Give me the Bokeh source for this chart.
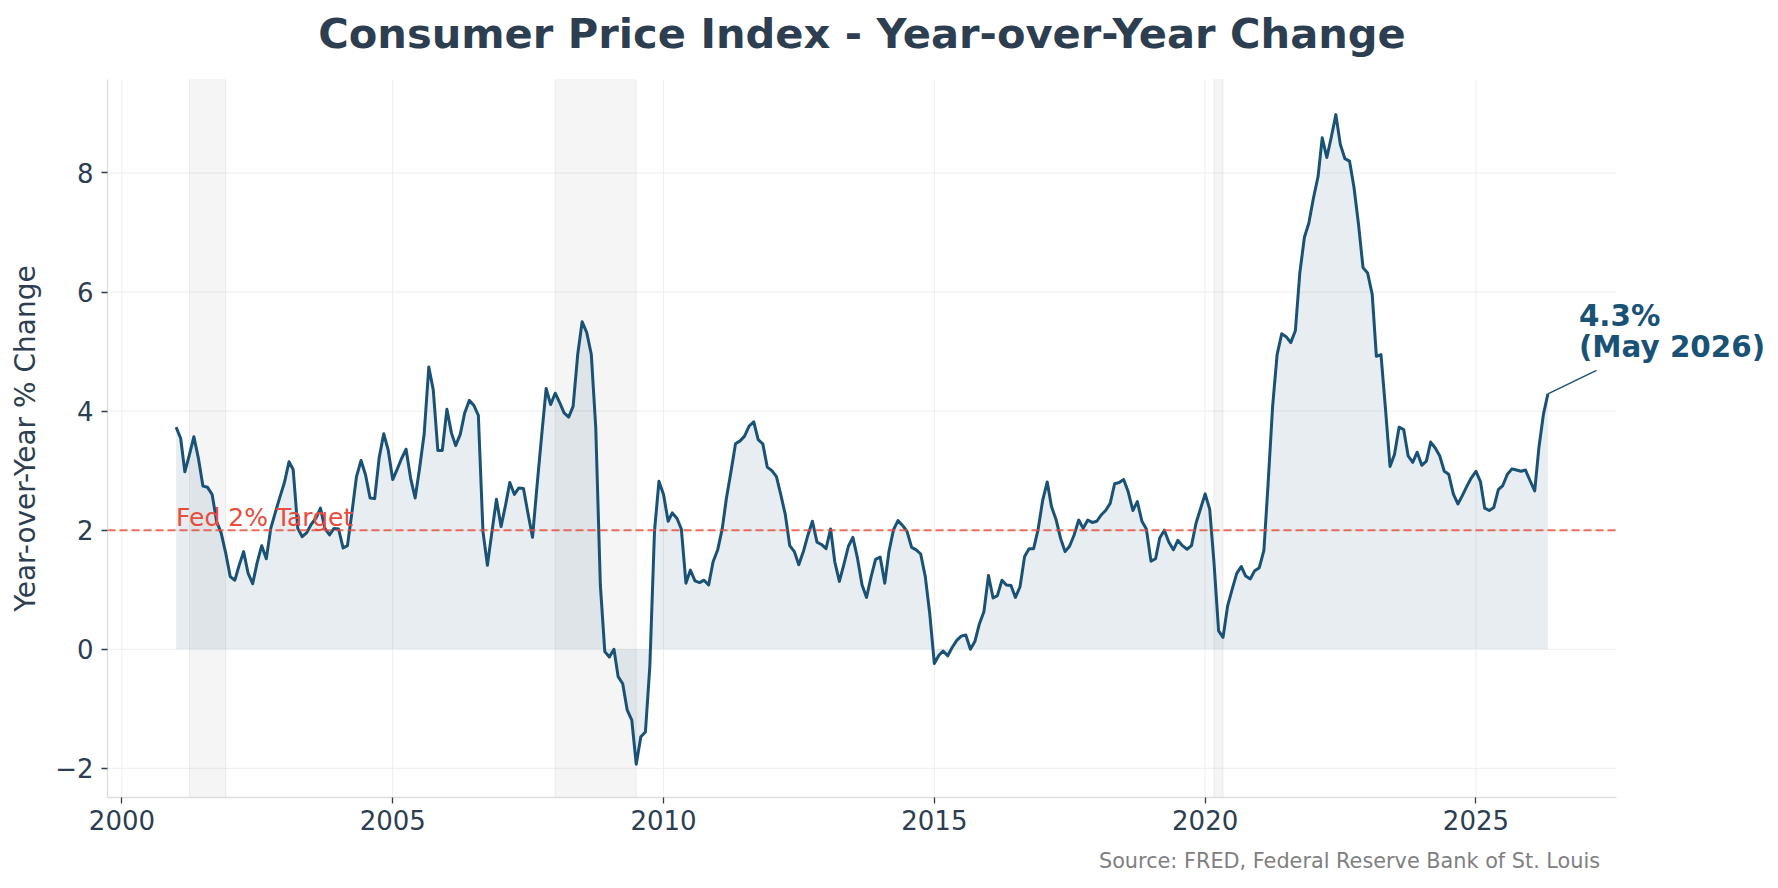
import pandas as pd
from bokeh.plotting import figure
from bokeh.models import Range1d, FixedTicker, BoxAnnotation, Label
from bokeh.embed import file_html
from bokeh.resources import INLINE

# ---------------- data ----------------
start_month = "2001-01-01"
cpi_yoy = [
    3.73, 3.54, 2.98, 3.27, 3.57, 3.20, 2.74, 2.72, 2.60, 2.15, 1.95, 1.62,   # 2001
    1.22, 1.16, 1.40, 1.64, 1.28, 1.10, 1.45, 1.74, 1.52, 2.03, 2.30, 2.55,   # 2002
    2.80, 3.15, 3.02, 2.03, 1.89, 1.96, 2.10, 2.20, 2.37, 2.03, 1.92, 2.03,   # 2003
    2.02, 1.70, 1.74, 2.31, 2.90, 3.17, 2.93, 2.54, 2.53, 3.21, 3.62, 3.35,   # 2004
    2.85, 3.03, 3.20, 3.36, 2.88, 2.54, 3.04, 3.62, 4.74, 4.36, 3.34, 3.34,   # 2005
    4.03, 3.63, 3.42, 3.61, 3.97, 4.18, 4.10, 3.93, 1.98, 1.41, 1.98, 2.52,   # 2006
    2.06, 2.43, 2.80, 2.60, 2.71, 2.70, 2.29, 1.88, 2.76, 3.57, 4.38, 4.11,   # 2007
    4.30, 4.14, 3.97, 3.90, 4.08, 4.95, 5.50, 5.32, 4.95, 3.72, 1.08, -0.04,  # 2008
    -0.13, 0.00, -0.46, -0.58, -1.02, -1.19, -1.93, -1.47, -1.39, -0.27, 1.98, 2.82,  # 2009
    2.60, 2.15, 2.29, 2.20, 2.02, 1.11, 1.33, 1.15, 1.12, 1.16, 1.08, 1.47,   # 2010
    1.67, 2.03, 2.54, 2.99, 3.45, 3.50, 3.58, 3.75, 3.82, 3.52, 3.45, 3.06,   # 2011
    3.00, 2.90, 2.60, 2.26, 1.74, 1.64, 1.42, 1.64, 1.92, 2.15, 1.80, 1.76,   # 2012
    1.69, 2.02, 1.47, 1.14, 1.42, 1.73, 1.88, 1.53, 1.08, 0.87, 1.22, 1.51,   # 2013
    1.55, 1.11, 1.64, 2.01, 2.16, 2.08, 1.98, 1.71, 1.67, 1.60, 1.22, 0.60,   # 2014
    -0.24, -0.10, -0.03, -0.11, 0.03, 0.15, 0.22, 0.24, 0.00, 0.13, 0.43, 0.63,  # 2015
    1.24, 0.86, 0.90, 1.16, 1.08, 1.07, 0.87, 1.05, 1.56, 1.69, 1.69, 2.01,   # 2016
    2.50, 2.81, 2.40, 2.18, 1.87, 1.64, 1.73, 1.92, 2.17, 2.03, 2.17, 2.13,   # 2017
    2.15, 2.26, 2.33, 2.45, 2.78, 2.80, 2.85, 2.64, 2.33, 2.48, 2.15, 2.02,   # 2018
    1.48, 1.52, 1.87, 2.00, 1.80, 1.67, 1.83, 1.74, 1.68, 1.74, 2.12, 2.36,   # 2019
    2.61, 2.35, 1.45, 0.31, 0.20, 0.73, 1.00, 1.27, 1.39, 1.23, 1.18, 1.32,   # 2020
    1.37, 1.66, 2.77, 4.09, 4.95, 5.30, 5.25, 5.15, 5.35, 6.32, 6.92, 7.16,   # 2021
    7.58, 7.94, 8.59, 8.26, 8.60, 8.98, 8.48, 8.24, 8.20, 7.76, 7.13, 6.41,   # 2022
    6.32, 5.96, 4.92, 4.95, 4.05, 3.07, 3.27, 3.73, 3.69, 3.25, 3.14, 3.31,   # 2023
    3.09, 3.16, 3.48, 3.38, 3.25, 2.99, 2.94, 2.61, 2.44, 2.58, 2.74, 2.88,   # 2024
    2.99, 2.81, 2.37, 2.33, 2.38, 2.68, 2.75, 2.94, 3.03, 3.01, 2.99, 3.01,   # 2025
    2.83, 2.66, 3.38, 3.95, 4.29,                                             # 2026
]
recession_starts = ["2001-04-01", "2008-01-01", "2020-03-01"]
recession_ends = ["2001-12-01", "2009-07-01", "2020-05-01"]
x_ticks = [2000, 2005, 2010, 2015, 2020, 2025]
y_ticks = [-2, 0, 2, 4, 6, 8]
fed_target = 2.0
title_text = "Consumer Price Index - Year-over-Year Change"
y_label = "Year-over-Year % Change"
source_text = "Source: FRED, Federal Reserve Bank of St. Louis"
target_text = "Fed 2% Target"


def frac_year(ts):
    ts = pd.Timestamp(ts)
    a = pd.Timestamp(year=ts.year, month=1, day=1)
    b = pd.Timestamp(year=ts.year + 1, month=1, day=1)
    return ts.year + (ts - a) / (b - a)


dates = pd.date_range(start_month, periods=len(cpi_yoy), freq="MS")
xs = [frac_year(d) for d in dates]

# ---------------- layout / styling ----------------
W, H = 1770, 880
BL, BT, BB = 107, 79, 83         # left, top, bottom borders
AX_W = 1509                      # width of the visible axes box
FW, FH = W - BL, H - BT - BB     # frame reaches the right edge (room for the note)
FONT = "DejaVu Sans"
DARK = "#2c3e50"
LINE = "#1a5276"
RED = "#e74c3c"

pad = 0.05 * (xs[-1] - xs[0])
x0, x1 = xs[0] - pad, xs[-1] + pad
y0, y1 = -2.49, 9.57
ux = (x1 - x0) / AX_W            # data units per pixel
uy = (y1 - y0) / FH
xe = x0 + FW * ux

p = figure(width=W, height=H, output_backend="svg", toolbar_location=None,
           x_range=Range1d(x0, xe), y_range=Range1d(y0, y1),
           min_border_left=BL, min_border_right=0,
           min_border_top=BT, min_border_bottom=BB)
p.outline_line_color = None
p.background_fill_color = "white"
p.border_fill_color = "white"
p.xgrid.visible = False
p.ygrid.visible = False

# grid lines, limited to the axes box
GRID = "#eeeeee"
p.segment(x0=x_ticks, x1=x_ticks, y0=[y0] * len(x_ticks), y1=[y1] * len(x_ticks),
          line_color=GRID, line_width=1, level="underlay")
p.segment(x0=[x0] * len(y_ticks), x1=[x1] * len(y_ticks), y0=y_ticks, y1=y_ticks,
          line_color=GRID, line_width=1, level="underlay")

# recession shading
for s, e in zip(recession_starts, recession_ends):
    p.add_layout(BoxAnnotation(left=frac_year(s), right=frac_year(e),
                               fill_color="#808080", fill_alpha=0.08,
                               line_color="#808080", line_alpha=0.12, line_width=1,
                               level="underlay"))

# area + line
p.varea(x=xs, y1=0, y2=cpi_yoy, fill_color=LINE, fill_alpha=0.1)
p.line(xs, cpi_yoy, line_color=LINE, line_width=3, line_join="round")

# Fed target
p.line([x0, x1], [fed_target, fed_target], line_color=RED, line_alpha=0.8,
       line_width=2, line_dash="8 4")
p.add_layout(Label(x=xs[0], y=fed_target + 0.1, y_offset=7, text=target_text,
                   text_font=FONT, text_font_size="25px", text_color=RED,
                   text_baseline="alphabetic", text_align="left"))

# annotation of latest value
lx, ly = xs[-1], cpi_yoy[-1]
p.segment(x0=[lx], y0=[ly], x1=[lx + 48.6 * ux], y1=[ly + 23.4 * uy],
          line_color=LINE, line_width=1.5)
p.add_layout(Label(x=lx, y=ly, x_offset=31, y_offset=78,
                   text=f"{cpi_yoy[-1]:.1f}%", text_font=FONT,
                   text_font_size="29.4px", text_font_style="bold",
                   text_color=LINE, text_baseline="alphabetic"))
p.add_layout(Label(x=lx, y=ly, x_offset=31, y_offset=47,
                   text=f"({dates[-1].strftime('%b %Y')})", text_font=FONT,
                   text_font_size="29.4px", text_font_style="bold",
                   text_color=LINE, text_baseline="alphabetic"))

# title above the axes box
p.add_layout(Label(x=AX_W / 2, y=45.7, x_units="screen", y_units="screen",
                   text=title_text, text_font=FONT, text_font_size="41.6px",
                   text_font_style="bold", text_color=DARK,
                   text_align="center", text_baseline="alphabetic"), "above")
# source note below the x axis
p.add_layout(Label(x=1599.6 - BL, y=-4, x_units="screen", y_units="screen",
                   text=source_text, text_font=FONT, text_font_size="20.8px",
                   text_color="#808080", text_align="right",
                   text_baseline="alphabetic"), "below")

# axes
p.xaxis.ticker = FixedTicker(ticks=x_ticks)
p.yaxis.ticker = FixedTicker(ticks=y_ticks)
p.xaxis.bounds = (x0, x1)
p.yaxis.major_label_overrides = {t: (f"\u2212{abs(t)}" if t < 0 else str(t)) for t in y_ticks}
for ax in (p.xaxis[0], p.yaxis[0]):
    ax.axis_line_color = "#dddddd"
    ax.axis_line_width = 1.3
    ax.major_tick_line_color = DARK
    ax.major_tick_line_width = 1.3
    ax.major_tick_out = 6
    ax.major_tick_in = 0
    ax.minor_tick_line_color = None
    ax.major_label_text_font = FONT
    ax.major_label_text_font_size = "26px"
    ax.major_label_text_color = DARK
p.xaxis.major_label_standoff = 6
p.yaxis.major_label_standoff = 8
p.yaxis.axis_label = y_label
p.yaxis.axis_label_text_font = FONT
p.yaxis.axis_label_text_font_size = "28px"
p.yaxis.axis_label_text_font_style = "normal"
p.yaxis.axis_label_text_color = DARK
p.yaxis.axis_label_standoff = 10

open("out.html", "w").write(file_html(p, INLINE))
